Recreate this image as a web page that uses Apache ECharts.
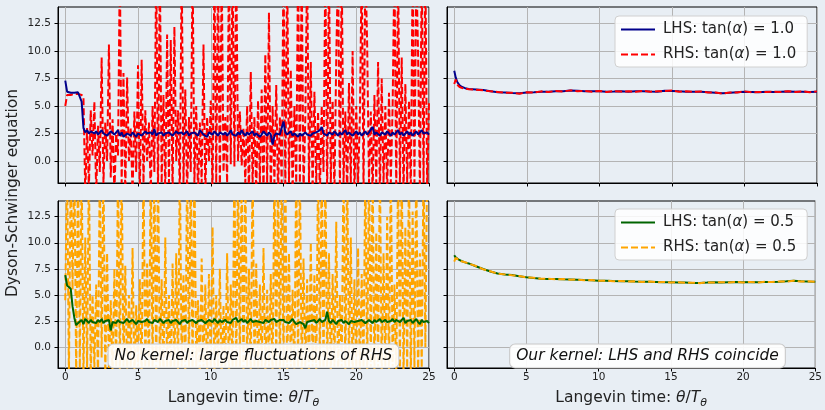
<!DOCTYPE html>
<html>
<head>
<meta charset="utf-8">
<script src="https://cdn.jsdelivr.net/npm/echarts@6/dist/echarts.min.js"></script>
<style>
  html, body { margin: 0; padding: 0; background: #e8eef4; }
  #main { width: 825px; height: 410px; }
</style>
</head>
<body>
<div id="main"></div>
<script>
// Langevin time step of the noisy (no kernel) runs
var dtNoisy = 0.125;

// no kernel, tan(alpha) = 1.0 : RHS (one row per time unit, 8 samples)
var rhsNoKernel10 = [
  5.0, 6.0, 6.1, 6.0, 6.1, 6.1, 6.0, 6.1,
  6.2, 6.0, 5.8, -3, 3.0, -2.5, 4.6, 0.5,
  5.4, -3, 3.2, -1, 9.4, -2, 3.5, 0,
  10.6, -1.5, 3.8, -3, 2.5, 0.5, 18, -2,
  8.0, -3, 7.6, 0, 3.0, -3, 4.5, -1,
  8.7, -3, 9.2, -2, 4.6, 0, 3.5, -3,
  5.0, -1, 18, -3, 18, -2, 6.0, -3,
  11.5, -2, 11.0, -3, 12.2, 0, 4.6, -3,
  18, -2, 6.5, -3, 4.0, -1, 18, -2,
  5.0, -3, 3.5, -2, 10.6, -3, 4.0, 0,
  5.5, -3, 18, -2, 18, -3, 18, -1,
  4.0, -2, 18, -0.3, 18, -0.5, 18, 0,
  4.5, -0.4, 3.0, -2, 5.0, -3, 8.1, -2,
  4.0, -3, 5.5, -2, 6.5, -3, 9.7, -2,
  13.5, -3, 5.0, -2, 6.9, -3, 4.0, -2,
  18, -3, 18, -2, 8.3, -3, 5.0, -2,
  18, -2, 18, -3, 4.0, 18, -2, 9.0,
  -3, 6.3, -2, 4.5, -3, 5.0, -1, 18,
  -3, 18, -2, 5.5, -3, 9.4, 18, -3,
  18, -2, 4.5, -3, 7.1, -2, 10.0, -3,
  5.0, -2, 4.0, 18, -3, 18, 10.6, -2,
  4.5, -3, 6.0, -2, 9.0, -3, 7.5, -2,
  5.0, -3, 6.2, -2, 5.0, 18, -3, 18,
  -2, 9.4, -3, 7.0, -2, 5.5, -3, 18,
  -2, 18, 9.7, -3, 18, -2, 18, -3,
  5.5
];

// no kernel, tan(alpha) = 1.0 : LHS
var lhsNoKernel10 = [
  7.3, 6.3, 6.2, 6.2, 6.2, 6.2, 6.2, 6.25,
  6.2, 5.4, 3.0, 2.6, 2.8, 2.5, 2.7, 2.6,
  2.5, 2.7, 2.4, 2.6, 2.8, 2.5, 2.6, 2.3,
  2.5, 2.7, 2.6, 2.4, 2.5, 2.8, 2.3, 2.6,
  2.2, 2.3, 2.5, 2.4, 2.3, 2.6, 2.5, 2.2,
  2.5, 2.6, 2.3, 2.4, 2.7, 2.5, 2.4, 2.6,
  2.4, 2.9, 2.3, 2.5, 2.4, 2.6, 2.3, 2.5,
  2.4, 2.6, 2.5, 2.3, 2.4, 2.7, 2.5, 2.4,
  2.6, 2.4, 2.5, 2.7, 2.3, 2.5, 2.4, 2.6,
  2.5, 2.3, 2.8, 2.6, 2.4, 2.5, 2.2, 2.6,
  2.5, 2.4, 2.7, 2.5, 2.3, 2.6, 2.5, 2.4,
  2.6, 2.3, 2.5, 2.8, 2.4, 2.5, 2.3, 2.6,
  2.4, 2.8, 2.5, 2.3, 2.6, 2.4, 2.5, 2.7,
  2.3, 2.5, 2.6, 2.2, 2.4, 2.7, 2.5, 2.3,
  2.6, 2.4, 1.5, 2.3, 2.5, 2.6, 2.4, 2.5,
  3.6, 2.6, 2.4, 2.5, 2.7, 2.3, 2.5, 2.4,
  2.2, 2.5, 2.3, 2.4, 2.6, 2.4, 2.5, 2.3,
  2.5, 2.4, 2.6, 2.5, 2.8, 3.1, 2.5, 2.4,
  2.3, 2.6, 2.5, 2.4, 2.7, 2.5, 2.3, 2.6,
  2.4, 2.5, 2.8, 2.4, 2.6, 2.5, 2.3, 2.5,
  2.7, 2.4, 2.6, 2.3, 2.5, 2.7, 2.4, 2.6,
  2.5, 3.1, 2.4, 2.6, 2.5, 2.3, 2.6, 2.5,
  2.4, 2.7, 2.5, 2.3, 2.6, 2.4, 2.5, 2.8,
  2.4, 2.6, 2.3, 2.5, 2.7, 2.4, 2.6, 2.3,
  2.5, 2.7, 2.4, 2.6, 2.8, 2.5, 2.4, 2.6,
  2.4
];

// no kernel, tan(alpha) = 0.5 : RHS
var rhsNoKernel05 = [
  4.5, 18, -3, 18, 5.5, 18, -3, 18,
  -2, 18, -3, 10.5, -2, 18, -3, 5.0,
  -2, 6.0, -3, 18, -1, 18, -3, 9.0,
  -2, 4.5, -3, 7.5, -2, 18, -3, 18,
  -2, 7.8, -3, 5.0, -2, 9.5, -3, 4.0,
  -2, 6.5, -3, 18, -2, 8.0, -3, 18,
  -2, 18, -3, 18, -2, 6.5, -3, 10.5,
  -2, 5.0, -3, 8.0, -2, 9.0, -3, 18,
  -2, 7.0, -3, 18, -2, 18, -3, 18,
  -2, 4.5, -3, 8.5, -2, 6.0, -3, 7.0,
  -2, 11.5, -3, 5.0, -2, 7.5, -3, 4.0,
  -2, 9.0, -3, 6.0, -2, 18, -3, 18,
  -2, 18, -3, 18, -2, 7.5, -3, 18,
  -2, 8.0, -3, 6.0, -2, 9.5, -3, 5.5,
  -2, 7.0, -3, 18, -2, 18, -3, 18,
  -2, 18, -3, 9.0, -2, 5.5, -3, 18,
  -2, 18, -3, 8.5, -2, 6.5, -3, 10.0,
  -2, 7.0, -3, 18, -2, 18, -3, 18,
  -2, 9.0, -3, 7.0, -2, 12.0, -3, 5.0,
  -2, 18, -3, 18, -2, 10.5, -3, 6.5,
  -2, 9.5, -3, 7.0, -2, 18, -3, 18,
  -2, 18, -3, 11.0, -2, 18, -3, 9.0,
  -2, 12.5, -3, 18, -2, 6.0, -3, 18,
  -2, 18, -3, 11.5, -2, 18, -3, 13.0,
  -2, 18, -3, 9.0, -2, 18, 0, 18,
  18
];

// no kernel, tan(alpha) = 0.5 : LHS
var lhsNoKernel05 = [
  6.9, 5.9, 5.8, 5.6, 3.9, 2.8, 2.1, 2.3,
  2.4, 2.6, 2.2, 2.7, 2.5, 2.3, 2.6, 2.4,
  2.5, 2.3, 2.6, 2.4, 2.7, 2.3, 2.5, 2.4,
  2.6, 1.6, 2.4, 2.5, 2.3, 2.6, 2.4, 2.5,
  2.3, 2.5, 2.7, 2.4, 2.3, 2.6, 2.5, 2.2,
  2.5, 2.6, 2.4, 2.3, 2.5, 2.7, 2.4, 2.5,
  2.3, 2.6, 2.5, 2.4, 2.7, 2.5, 2.3, 2.5,
  2.4, 2.6, 2.3, 2.5, 2.4, 2.6, 2.5, 2.2,
  2.5, 2.4, 2.6, 2.3, 2.5, 2.4, 2.6, 2.5,
  2.3, 2.5, 2.4, 2.6, 2.5, 2.3, 2.4, 2.6,
  2.5, 2.4, 2.7, 2.5, 2.3, 2.6, 2.4, 2.5,
  2.6, 2.4, 2.5, 2.3, 2.6, 2.5, 2.8, 2.4,
  2.5, 2.7, 2.4, 2.6, 2.3, 2.5, 2.7, 2.4,
  2.3, 2.5, 2.6, 2.4, 2.5, 2.3, 2.6, 2.5,
  2.4, 2.6, 2.5, 2.7, 2.4, 2.3, 2.6, 2.5,
  2.6, 2.4, 2.5, 2.3, 2.5, 2.7, 2.4, 2.2,
  2.3, 2.4, 2.5, 2.2, 1.8, 2.4, 2.3, 2.5,
  2.4, 2.6, 2.3, 2.5, 2.7, 2.4, 2.5, 2.6,
  3.4, 2.5, 2.3, 2.6, 2.4, 2.2, 2.5, 2.4,
  2.6, 2.3, 2.5, 2.4, 2.2, 2.5, 2.6, 2.4,
  2.3, 2.5, 2.4, 2.6, 2.5, 2.3, 2.4, 2.6,
  2.5, 2.3, 2.6, 2.4, 2.5, 2.7, 2.4, 2.5,
  2.6, 2.4, 2.3, 2.5, 2.7, 2.4, 2.6, 2.5,
  2.4, 2.6, 2.8, 2.3, 2.5, 2.4, 2.6, 2.3,
  2.5, 2.7, 2.4, 2.2, 2.6, 2.4, 2.3, 2.5,
  2.3
];

// with kernel: sample times and values
var tKernel = [0, 0.1, 0.2, 0.35, 0.5, 0.75, 1, 1.5, 2, 2.5, 3, 3.5, 4, 4.5, 5, 5.5,
  6, 6.5, 7, 7.5, 8, 8.5, 9, 9.5, 10, 10.5, 11, 11.5, 12, 12.5, 13, 13.5, 14, 14.5,
  15, 15.5, 16, 16.5, 17, 17.5, 18, 18.5, 19, 19.5, 20, 20.5, 21, 21.5, 22, 22.5,
  23, 23.5, 24, 24.5, 25];
var lhsKernel10 = [8.2, 7.6, 7.2, 6.9, 6.75, 6.62, 6.55, 6.5, 6.45, 6.35,
  6.25, 6.22, 6.18, 6.15, 6.22, 6.25, 6.3, 6.3, 6.35, 6.35,
  6.4, 6.38, 6.35, 6.33, 6.35, 6.3, 6.32, 6.35, 6.3, 6.33,
  6.35, 6.32, 6.3, 6.38, 6.37, 6.33, 6.3, 6.3, 6.3, 6.25,
  6.2, 6.15, 6.2, 6.25, 6.3, 6.28, 6.25, 6.3, 6.28, 6.3,
  6.32, 6.3, 6.3, 6.28, 6.3];
var rhsKernel10 = [7.0, 7.4, 6.95, 6.75, 6.65, 6.58, 6.52, 6.47, 6.42, 6.33,
  6.27, 6.2, 6.2, 6.12, 6.25, 6.22, 6.33, 6.28, 6.37, 6.32,
  6.42, 6.35, 6.37, 6.3, 6.37, 6.28, 6.35, 6.32, 6.33, 6.3,
  6.38, 6.3, 6.33, 6.36, 6.4, 6.3, 6.33, 6.28, 6.32, 6.22,
  6.23, 6.12, 6.23, 6.22, 6.33, 6.25, 6.28, 6.27, 6.3, 6.27,
  6.35, 6.28, 6.33, 6.25, 6.33];
var lhsKernel05 = [8.8, 8.6, 8.45, 8.35, 8.25, 8.12, 8.02, 7.75, 7.48, 7.25,
  7.05, 6.95, 6.9, 6.8, 6.7, 6.62, 6.56, 6.52, 6.53, 6.5,
  6.48, 6.45, 6.42, 6.4, 6.37, 6.35, 6.33, 6.32, 6.3, 6.28,
  6.27, 6.26, 6.24, 6.22, 6.22, 6.2, 6.18, 6.15, 6.15, 6.18,
  6.22, 6.2, 6.22, 6.23, 6.22, 6.23, 6.22, 6.24, 6.25, 6.27,
  6.3, 6.35, 6.3, 6.28, 6.27];
var rhsKernel05 = [8.2, 8.55, 8.42, 8.37, 8.22, 8.14, 8.0, 7.77, 7.46, 7.27,
  7.03, 6.97, 6.88, 6.82, 6.68, 6.64, 6.54, 6.54, 6.51, 6.52,
  6.46, 6.47, 6.4, 6.42, 6.35, 6.37, 6.31, 6.34, 6.28, 6.3,
  6.25, 6.28, 6.22, 6.24, 6.2, 6.22, 6.16, 6.17, 6.13, 6.2,
  6.2, 6.22, 6.2, 6.25, 6.2, 6.25, 6.2, 6.26, 6.23, 6.29,
  6.28, 6.37, 6.28, 6.3, 6.25];

var xTicks = [0, 5, 10, 15, 20, 25];
var yTicks = [0, 2.5, 5, 7.5, 10, 12.5];

var font = "DejaVu Sans";
var textColor = "#222";

function noisyPairs(values) {
  return values.map(function (v, i) { return [i * dtNoisy, v]; });
}
function kernelPairs(values) {
  return values.map(function (v, i) { return [tKernel[i], v]; });
}

function xAxisFor(grid, showLabels) {
  return {
    type: "value", gridIndex: grid, min: -0.5, max: 25,
    axisLine: { show: true, onZero: false, lineStyle: { color: "#000", width: 1 } },
    axisTick: { show: true, length: 3.5, customValues: xTicks, lineStyle: { color: "#000" } },
    axisLabel: { show: showLabels, customValues: xTicks, fontSize: 10.5, color: textColor, fontFamily: font, margin: 4 },
    splitLine: { show: true, lineStyle: { color: "#b4b4b4", width: 1 } },
    name: showLabels ? "Langevin time: {i|θ}/{i|T}{s|θ}" : "",
    nameLocation: "middle",
    nameGap: 18,
    nameTextStyle: {
      fontSize: 15.5, color: textColor, fontFamily: font,
      rich: {
        i: { fontSize: 15.5, fontStyle: "italic", fontFamily: font, color: textColor },
        s: { fontSize: 11, fontStyle: "italic", fontFamily: font, color: textColor, padding: [12, 0, 0, 0] }
      }
    }
  };
}

function yAxisFor(grid, showLabels) {
  return {
    type: "value", gridIndex: grid, min: -2, max: 14,
    axisLine: { show: true, onZero: false, lineStyle: { color: "#000", width: 1 } },
    axisTick: { show: true, length: 3.5, customValues: yTicks, lineStyle: { color: "#000" } },
    axisLabel: {
      show: showLabels, customValues: yTicks, fontSize: 10.5, color: textColor, fontFamily: font, margin: 7,
      formatter: function (v) { return v.toFixed(1); }
    },
    splitLine: { show: true, lineStyle: { color: "#b4b4b4", width: 1 } }
  };
}

function line(name, axis, data, color, dashed, z) {
  return {
    name: name, type: "line", xAxisIndex: axis, yAxisIndex: axis, data: data,
    symbol: "none", clip: true, z: z, silent: true,
    lineStyle: { color: color, width: 2, type: dashed ? [7, 3] : "solid" },
    itemStyle: { color: color },
    emphasis: { disabled: true }
  };
}

function legendAt(top, names) {
  return {
    left: 615, top: top, orient: "vertical", data: names,
    backgroundColor: "rgba(255,255,255,0.85)", borderColor: "#d0d0d0", borderWidth: 1, borderRadius: 4,
    padding: [6, 11, 5, 5], itemGap: 10, itemWidth: 34, itemHeight: 14,
    selectedMode: false,
    itemStyle: { opacity: 0 },
    formatter: function (n) { return n.replace("α", "{i|α}"); },
    textStyle: {
      fontSize: 15, color: textColor, fontFamily: font, padding: [0, 0, 0, 3],
      rich: { i: { fontSize: 15, fontStyle: "italic", fontFamily: font, color: textColor } }
    }
  };
}

function note(text, x) {
  return {
    type: "text", x: x, y: 356, z: 10,
    style: {
      text: text, font: "italic 15.5px DejaVu Sans", fill: "#111",
      align: "center", verticalAlign: "middle",
      backgroundColor: "rgba(255,255,255,0.9)", borderColor: "#c8c8c8", borderWidth: 1, borderRadius: 5,
      padding: [4, 6, 3, 6]
    }
  };
}

var chart = echarts.init(document.getElementById("main"));
var option = {
  backgroundColor: "#e8eef4",
  animation: false,
  grid: [
    { left: 58, top: 7, width: 371, height: 176, show: true, borderColor: "#000", borderWidth: 1, backgroundColor: "transparent" },
    { left: 447, top: 7, width: 370, height: 176, show: true, borderColor: "#000", borderWidth: 1, backgroundColor: "transparent" },
    { left: 58, top: 201, width: 371, height: 176, show: true, borderColor: "#000", borderWidth: 1, backgroundColor: "transparent" },
    { left: 447, top: 201, width: 370, height: 176, show: true, borderColor: "#000", borderWidth: 1, backgroundColor: "transparent" }
  ],
  xAxis: [xAxisFor(0, false), xAxisFor(1, false), xAxisFor(2, true), xAxisFor(3, true)],
  yAxis: [yAxisFor(0, true), yAxisFor(1, false), yAxisFor(2, true), yAxisFor(3, false)],
  legend: [
    legendAt(16, ["LHS: tan(α) = 1.0", "RHS: tan(α) = 1.0"]),
    legendAt(209, ["LHS: tan(α) = 0.5", "RHS: tan(α) = 0.5"])
  ],
  series: [
    line("RHS no kernel 1.0", 0, noisyPairs(rhsNoKernel10), "#ff0000", true, 2),
    line("LHS no kernel 1.0", 0, noisyPairs(lhsNoKernel10), "#00008b", false, 3),
    line("LHS: tan(α) = 1.0", 1, kernelPairs(lhsKernel10), "#00008b", false, 2),
    line("RHS: tan(α) = 1.0", 1, kernelPairs(rhsKernel10), "#ff0000", true, 3),
    line("RHS no kernel 0.5", 2, noisyPairs(rhsNoKernel05), "#ffa500", true, 2),
    line("LHS no kernel 0.5", 2, noisyPairs(lhsNoKernel05), "#006400", false, 3),
    line("LHS: tan(α) = 0.5", 3, kernelPairs(lhsKernel05), "#006400", false, 2),
    line("RHS: tan(α) = 0.5", 3, kernelPairs(rhsKernel05), "#ffa500", true, 3)
  ],
  graphic: [
    {
      type: "text", x: 13, y: 193, rotation: Math.PI / 2, z: 10,
      style: { text: "Dyson-Schwinger equation", font: "15.5px DejaVu Sans", fill: textColor, align: "center", verticalAlign: "middle" }
    },
    note("No kernel: large fluctuations of RHS", 253.5),
    note("Our kernel: LHS and RHS coincide", 647.5)
  ]
};
chart.setOption(option);
</script>
</body>
</html>
